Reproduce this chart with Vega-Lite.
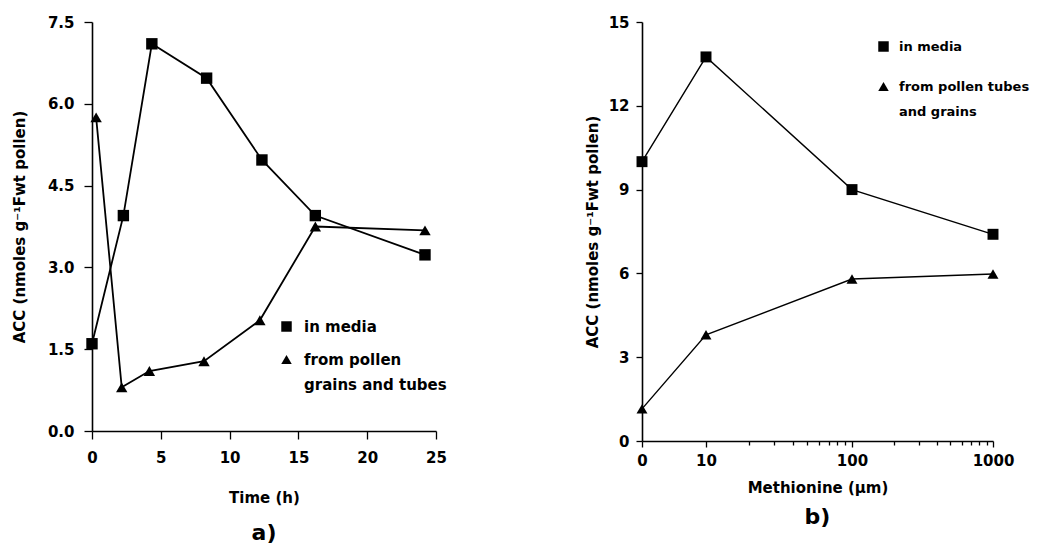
{
  "$schema": "https://vega.github.io/schema/vega-lite/v6.json",
  "background": "white",
  "padding": {"left": 12, "top": 15, "right": 0, "bottom": 0},
  "autosize": {"type": "pad"},
  "config": {
    "view": {"stroke": null},
    "font": "DejaVu Sans",
    "style": {"guide-label": {"lineHeight": 25}},
    "axis": {
      "grid": false,
      "domainColor": "black",
      "domainWidth": 1.6,
      "tickColor": "black",
      "tickWidth": 1.3,
      "tickSize": 8,
      "labelColor": "black",
      "labelFont": "DejaVu Sans",
      "labelFontSize": 15,
      "labelFontWeight": "bold",
      "labelFlush": false,
      "labelOverlap": false,
      "titleColor": "black",
      "titleFont": "DejaVu Sans",
      "titleFontSize": 15,
      "titleFontWeight": "bold"
    },
    "legend": {
      "orient": "none",
      "title": null,
      "padding": 0,
      "labelFont": "DejaVu Sans",
      "labelFontSize": 15,
      "labelFontWeight": "bold",
      "labelColor": "black",
      "labelLimit": 400,
      "symbolSize": 110,
      "symbolStrokeWidth": 0,
      "symbolFillColor": "black",
      "labelOffset": 10
    },
    "title": {"color": "black", "font": "DejaVu Sans", "fontSize": 22, "fontWeight": "bold"}
  },
  "datasets": {
    "time": [
      {"time": 0, "acc": 1.6, "series": "in media"},
      {"time": 2.28, "acc": 3.95, "series": "in media"},
      {"time": 4.35, "acc": 7.1, "series": "in media"},
      {"time": 8.33, "acc": 6.47, "series": "in media"},
      {"time": 12.35, "acc": 4.97, "series": "in media"},
      {"time": 16.23, "acc": 3.95, "series": "in media"},
      {"time": 24.2, "acc": 3.23, "series": "in media"},
      {"time": 0.3, "acc": 5.75, "series": "from pollen\ngrains and tubes"},
      {"time": 2.16, "acc": 0.8, "series": "from pollen\ngrains and tubes"},
      {"time": 4.17, "acc": 1.1, "series": "from pollen\ngrains and tubes"},
      {"time": 8.14, "acc": 1.28, "series": "from pollen\ngrains and tubes"},
      {"time": 12.2, "acc": 2.03, "series": "from pollen\ngrains and tubes"},
      {"time": 16.23, "acc": 3.75, "series": "from pollen\ngrains and tubes"},
      {"time": 24.2, "acc": 3.68, "series": "from pollen\ngrains and tubes"}
    ],
    "meth": [
      {"methionine": 0, "acc": 10.0, "series": "in media"},
      {"methionine": 10, "acc": 13.75, "series": "in media"},
      {"methionine": 100, "acc": 9.0, "series": "in media"},
      {"methionine": 1000, "acc": 7.4, "series": "in media"},
      {"methionine": 0, "acc": 1.15, "series": "from pollen tubes\nand grains"},
      {"methionine": 10, "acc": 3.8, "series": "from pollen tubes\nand grains"},
      {"methionine": 100, "acc": 5.8, "series": "from pollen tubes\nand grains"},
      {"methionine": 1000, "acc": 5.98, "series": "from pollen tubes\nand grains"}
    ]
  },
  "spacing": 138,
  "resolve": {
    "scale": {"x": "independent", "y": "independent", "shape": "independent"},
    "legend": {"shape": "independent"}
  },
  "hconcat": [
    {
      "width": 344,
      "height": 409,
      "data": {"name": "time"},
      "title": {"text": "a)", "orient": "bottom", "offset": 18},
      "encoding": {
        "x": {
          "field": "time",
          "type": "quantitative",
          "scale": {"domain": [0, 25], "nice": false, "zero": false},
          "axis": {"values": [0, 5, 10, 15, 20, 25], "title": "Time (h)", "titlePadding": 25, "labelPadding": 11}
        },
        "y": {
          "field": "acc",
          "type": "quantitative",
          "scale": {"domain": [0, 7.5], "nice": false},
          "axis": {"values": [0, 1.5, 3, 4.5, 6, 7.5], "format": ".1f", "title": "ACC (nmoles g⁻¹Fwt pollen)", "labelPadding": 10, "titlePadding": 20}
        }
      },
      "layer": [
        {
          "mark": {"type": "line", "color": "black", "strokeWidth": 1.8},
          "encoding": {"detail": {"field": "series"}}
        },
        {
          "mark": {"type": "point", "filled": true, "color": "black", "opacity": 1, "size": 130},
          "encoding": {
            "shape": {
              "field": "series",
              "type": "nominal",
              "scale": {"domain": ["in media", "from pollen\ngrains and tubes"], "range": ["square", "triangle-up"]},
              "legend": {
                "legendX": 187,
                "legendY": 297,
                "rowPadding": 17,
                "labelExpr": "split(datum.label, '\\n')",
                "encode": {"labels": {"update": {"baseline": {"value": "top"}, "dy": {"value": -8}}}}
              }
            }
          }
        }
      ]
    },
    {
      "width": 351,
      "height": 419,
      "data": {"name": "meth"},
      "title": {"text": "b)", "orient": "bottom", "offset": 12},
      "encoding": {
        "x": {
          "field": "methionine",
          "type": "quantitative",
          "scale": {"type": "symlog", "domain": [0, 10, 100, 1000], "range": [0, 64, 210, 351], "nice": false, "zero": false},
          "axis": {
            "values": [0, 10, 20, 30, 40, 50, 60, 70, 80, 90, 100, 200, 300, 400, 500, 600, 700, 800, 900, 1000],
            "labelExpr": "indexof([0, 10, 100, 1000], datum.value) >= 0 ? format(datum.value, 'd') : ''",
            "tickSize": {"condition": {"test": "indexof([0, 10, 100, 1000], datum.value) >= 0", "value": 6}, "value": 4},
            "title": "Methionine (µm)",
            "titlePadding": 12,
            "labelPadding": 6
          }
        },
        "y": {
          "field": "acc",
          "type": "quantitative",
          "scale": {"domain": [0, 15], "nice": false},
          "axis": {"values": [0, 3, 6, 9, 12, 15], "format": "d", "title": "ACC (nmoles g⁻¹Fwt pollen)", "tickSize": 6, "labelPadding": 7, "titlePadding": 8}
        }
      },
      "layer": [
        {
          "mark": {"type": "line", "color": "black", "strokeWidth": 1.4},
          "encoding": {"detail": {"field": "series"}}
        },
        {
          "mark": {"type": "point", "filled": true, "color": "black", "opacity": 1, "size": 120},
          "encoding": {
            "shape": {
              "field": "series",
              "type": "nominal",
              "scale": {"domain": ["in media", "from pollen tubes\nand grains"], "range": ["square", "triangle-up"]},
              "legend": {
                "legendX": 235,
                "legendY": 18,
                "rowPadding": 26,
                "labelFontSize": 13,
                "labelOffset": 9,
                "labelExpr": "split(datum.label, '\\n')",
                "encode": {"labels": {"update": {"baseline": {"value": "top"}, "dy": {"value": -7}}}}
              }
            }
          }
        }
      ]
    }
  ]
}
